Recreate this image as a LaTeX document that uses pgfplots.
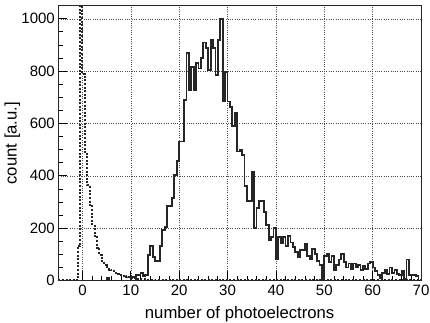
\documentclass[border=0pt]{standalone}
\usepackage{fontspec}
\setmainfont{Liberation Sans}
\usepackage{pgfplots}
\usepackage{pgfplotstable}
\pgfplotsset{compat=1.18}
\pgfplotstableread{
x y
-5 0
5 10
5.5 0
10 12
10.5 15
11 20
11.5 20
12 28
12.5 15
13 20
13.5 97
14 132
14.5 91
15 76
15.5 76
16 132
16.5 193
17 203
17.5 285
18 285
18.5 314
19 403
19.5 458
20 531
20.5 531
21 690
21.5 869
22 728
22.5 817
23 728
23.5 830
24 810
24.5 850
25 909
25.5 888
26 805
26.5 920
27 888
27.5 786
28 920
28.5 1000
29 684
29.5 798
30 684
30.5 663
31 591
31.5 642
32 493
32.5 500
33 480
33.5 361
34 305
34.5 305
35 416
35.5 202
36 276
36.5 305
37 305
37.5 263
38 212
38.5 155
39 165
39.5 202
40 81
40.5 165
41 142
41.5 165
42 132
42.5 170
43 145
43.5 127
44 110
44.5 91
45 118
45.5 118
46 140
46.5 95
47 80
47.5 120
48 100
48.5 75
49 60
49.5 5
50 95
50.5 100
51 70
51.5 95
52 40
52.5 60
53 80
53.5 100
54 70
54.5 50
55 65
55.5 45
56 65
56.5 50
57 60
57.5 40
58 55
58.5 45
59 65
59.5 70
60 50
60.5 35
61 20
61.5 10
62 30
62.5 40
63 25
63.5 50
64 30
64.5 40
65 25
65.5 20
66 35
66.5 5
67 80
67.5 20
68 20
68.5 20
69 17
69.5 0
70 0
}\signal
\pgfplotstableread{
x y
-5 0
-1 130
-0.5 1200
0 790
0.5 490
1 365
1.5 290
2 210
2.5 165
3 125
3.5 97
4 75
4.5 60
5 50
5.5 42
6 36
6.5 30
7 26
7.5 22
8 19
8.5 16
9 14
9.5 12
10 9
10.5 8
11 6
11.5 5
12 4
13 3
15 2
20 1
25 0
70 0
}\pedestal
\begin{document}
\begin{tikzpicture}
\useasboundingbox (-58.3bp,-42.5bp) rectangle (371.7bp,280.5bp);
\begin{axis}[
  at={(0,0)}, anchor=south west,
  scale only axis, width=362.7bp, height=274.8bp,
  xmin=-5, xmax=70, ymin=0, ymax=1050,
  xtick={0,10,...,70}, ytick={0,200,...,1000},
  minor x tick num=4, minor y tick num=3,
  xtick pos=bottom, ytick pos=left,
  tick align=inside,
  major tick length=9bp, minor tick length=4.5bp,
  grid=major,
  major grid style={black!70, line width=0.5pt, dash pattern=on 1pt off 1.3pt},
  axis line style={black!85, line width=0.9pt},
  tick style={black, line width=0.8pt},
  /pgf/number format/assume math mode=true,
  /pgf/number format/set thousands separator={},
  ticklabel style={font=\fontsize{15bp}{18bp}\selectfont},
  xticklabel style={yshift=-1.5bp},
  yticklabel style={inner xsep=3.3bp},
  label style={font=\fontsize{16.7bp}{19bp}\selectfont},
  xlabel={number of photoelectrons},
  ylabel={count [a.u.]},
  x label style={at={(axis description cs:0.5,-0.1365)}, anchor=base},
  y label style={at={(axis description cs:-0.127,0.5)}, anchor=center, inner sep=0pt},
]
\addplot[const plot, black!85, line width=2bp, line cap=butt, dash pattern=on 2bp off 1.6bp] table[x=x,y=y] {\pedestal};
\addplot[const plot, black!85, line width=1.8bp] table[x=x,y=y] {\signal};
\end{axis}
\end{tikzpicture}
\end{document}
